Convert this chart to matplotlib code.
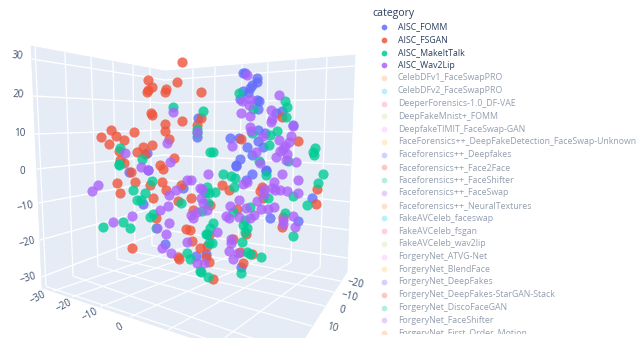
#!/usr/bin/env python3
import matplotlib
matplotlib.use('Agg')
import matplotlib.pyplot as plt
from matplotlib.patches import Polygon, Rectangle

# projected point positions (screen px)
fomm = [(198,118),(197,137),(147,153),(243,73),(245,73),(257,78),(257,82),(252,85),(250,88),(243,91),
        (248,93),(240,99),(259,101),(257,100),(258,109),(276,113),(282,111),(293,125),(258,130),(265,133),
        (258,141),(263,147),(230,138),(239,138),(247,147),(252,155),(240,159),(236,165),(266,171),(129,172),
        (148,170),(143,204),(165,244),(196,256),(183,188),(236,166),(252,174),(266,170),(246,180),(312,198),
        (298,221),(270,218),(206,254),(241,267)]
fsgan = [(182,62),(148,80),(152,87),(148,90),(147,92),(166,89),(165,92),(177,82),(201,92),(151,113),
         (152,115),(182,121),(165,124),(165,131),(169,139),(111,130),(116,136),(101,137),(109,144),(124,140),
         (134,132),(143,147),(152,145),(137,152),(145,154),(119,151),(120,160),(124,163),(160,165),(163,169),
         (174,158),(201,118),(197,125),(241,139),(282,117),(298,141),(117,183),(135,182),(120,193),(131,172),
         (162,182),(150,185),(166,190),(153,198),(156,218),(181,185),(178,201),(191,198),(186,229),(190,230),
         (192,241),(200,248),(207,246),(132,248),(178,257),(179,259),(193,210),(206,257),(222,185),(229,190),
         (262,187),(260,191),(263,198),(210,205),(237,209),(283,217),(282,227),(317,189),(316,204),(246,234),
         (233,239),(240,252),(252,254),(243,263),(209,262),(213,279),(209,235)]
makeittalk = [(173,107),(203,111),(197,129),(197,133),(120,148),(142,159),(119,164),(210,152),(239,93),(285,101),
              (287,107),(286,117),(277,131),(270,135),(269,145),(252,133),(253,109),(213,152),(315,148),(313,152),
              (314,155),(259,161),(288,161),(133,190),(152,181),(145,193),(141,200),(137,200),(103,227),(123,222),
              (130,228),(150,217),(153,214),(156,228),(181,203),(187,253),(190,259),(200,271),(208,277),(207,234),
              (119,165),(205,193),(209,243),(223,174),(231,176),(235,178),(266,175),(323,174),(318,183),(307,205),
              (234,187),(215,192),(207,187),(209,193),(293,196),(268,198),(250,207),(233,212),(285,213),(213,223),
              (210,228),(206,234),(245,220),(243,225),(247,228),(245,232),(242,242),(212,243),(247,252),(250,254),
              (261,257),(293,236),(241,273),(201,272),(202,211),(208,203)]
wav2lip = [(173,112),(167,143),(125,153),(170,162),(141,167),(148,170),(197,132),(247,75),(279,95),(242,101),
           (250,99),(249,105),(241,113),(250,116),(271,110),(272,119),(271,122),(293,126),(250,127),(251,131),
           (263,136),(279,140),(291,136),(289,142),(285,146),(283,149),(280,151),(287,154),(276,157),(286,160),
           (296,162),(232,146),(256,152),(260,163),(98,185),(92,191),(113,222),(132,216),(160,210),(168,206),
           (169,223),(166,234),(157,228),(187,242),(162,248),(171,253),(176,190),(169,195),(193,218),(191,215),
           (197,212),(203,203),(187,180),(191,180),(200,188),(197,263),(204,263),(207,210),(208,174),(282,174),
           (274,182),(247,182),(243,184),(264,189),(272,188),(280,190),(275,190),(287,191),(298,193),(298,180),
           (264,194),(239,200),(230,206),(257,201),(246,208),(261,209),(268,209),(274,207),(254,215),(250,218),
           (226,216),(229,218),(239,217),(293,216),(283,220),(283,224),(295,227),(217,232),(231,239),(231,243),
           (229,251),(233,259),(238,253),(202,189),(201,198)]

active = ['AISC_FOMM', 'AISC_FSGAN', 'AISC_MakeItTalk', 'AISC_Wav2Lip']
categories = active + ['CelebDFv1_FaceSwapPRO', 'CelebDFv2_FaceSwapPRO', 'DeeperForensics-1.0_DF-VAE',
                       'DeepFakeMnist+_FOMM', 'DeepfakeTIMIT_FaceSwap-GAN',
                       'FaceForensics++_DeepFakeDetection_FaceSwap-Unknown', 'Faceforensics++_Deepfakes',
                       'Faceforensics++_Face2Face', 'Faceforensics++_FaceShifter', 'Faceforensics++_FaceSwap',
                       'Faceforensics++_NeuralTextures', 'FakeAVCeleb_faceswap', 'FakeAVCeleb_fsgan',
                       'FakeAVCeleb_wav2lip', 'ForgeryNet_ATVG-Net', 'ForgeryNet_BlendFace', 'ForgeryNet_DeepFakes',
                       'ForgeryNet_DeepFakes-StarGAN-Stack', 'ForgeryNet_DiscoFaceGAN', 'ForgeryNet_FaceShifter',
                       'ForgeryNet_First_Order_Motion']
colors = ['#636EFA', '#EF553B', '#00CC96', '#AB63FA', '#FFA15A', '#19D3F3', '#FF6692', '#B6E880', '#FF97FF', '#FECB52']

z_ticks = ['30', '20', '10', '0', '\u221210', '\u221220', '\u221230']
z_pos = [(17,56,-5), (18,95,-3), (20,133,0), (22,171,0), (25,207,12), (27,243,14), (28,278,16)]
x_ticks = ['\u221230', '\u221220', '\u221210', '0']
x_pos = [(38,298), (64,306), (90,315), (120,327)]
y_ticks = ['\u221220', '\u221210', '0', '10']
y_pos = [(355,284), (349,297), (342,310), (332,328)]

BG = '#E5ECF6'
TXT = '#2a3f5f'
plt.rcParams['font.family'] = ['Open Sans', 'DejaVu Sans']

fig = plt.figure(figsize=(6.36, 3.38), dpi=100)
ax = fig.add_axes([0, 0, 1, 1])
ax.set_xlim(0, 636)
ax.set_ylim(338, 0)
ax.axis('off')

# box walls and floor
left_wall = [(31,46), (165,71), (165,240), (42,288)]
right_wall = [(165,71), (355,55), (347,272), (165,240)]
floor = [(42,288), (165,240), (347,272), (285,369)]
for q in (left_wall, right_wall, floor):
    ax.add_patch(Polygon(q, closed=True, facecolor=BG, edgecolor=BG, lw=0.5, zorder=1))


def grid(segs, lw=1.0):
    for a, b in segs:
        ax.plot([a[0], b[0]], [a[1], b[1]], color='white', lw=lw, zorder=2, solid_capstyle='butt')


# horizontal lines on both walls
z_left = [59, 96, 134, 169, 203, 240, 277]
z_back = [80, 103, 130, 155, 180, 205, 230]
z_right = [66, 99, 132, 165, 202, 230, 258]
for l, m, r in zip(z_left, z_back, z_right):
    grid([((31 + (l - 46) * 0.046, l), (165, m)), ((165, m), (355 - (r - 55) * 0.037, r))])

# vertical lines on the walls and their continuation on the floor
wall_l_top = [35, 65, 91, 113, 133, 150]
wall_l_bot = [46, 73, 98, 117, 135, 152]
floor_r = [(288,365), (295,353), (312,326), (325,306), (334,292), (341,281)]
for t, b, e in zip(wall_l_top, wall_l_bot, floor_r):
    pb = (b, 288 - 0.387 * (b - 42))
    grid([((t, 46 + 0.187 * (t - 31)), pb), (pb, e)], lw=0.9)

wall_r_top = [193, 215, 242, 268, 296, 327]
wall_r_bot = [192, 213, 238, 264, 291, 320]
floor_l = [(53,291), (72,297), (100,307), (130,317), (168,330), (215,345)]
for t, b, e in zip(wall_r_top, wall_r_bot, floor_l):
    pb = (b, 240 + 0.176 * (b - 165))
    grid([((t, 71 - 0.084 * (t - 165)), pb), (pb, e)], lw=0.9)

# points
for pts, c in zip((fomm, fsgan, makeittalk, wav2lip), colors):
    ax.scatter([p[0] for p in pts], [p[1] for p in pts], s=54, color=c, alpha=0.8, linewidths=0, zorder=3)

# axis tick labels
for s, (x, y, r) in zip(z_ticks, z_pos):
    ax.text(x, y, s, color=TXT, fontsize=7.1, ha='center', va='center', rotation=r, alpha=0.9)
for s, (x, y) in zip(x_ticks, x_pos):
    ax.text(x, y, s, color=TXT, fontsize=7.1, ha='center', va='center', rotation=28, alpha=0.9)
for s, (x, y) in zip(y_ticks, y_pos):
    ax.text(x, y, s, color=TXT, fontsize=7.1, ha='center', va='center', rotation=-14, alpha=0.9)

# legend, cut off at the bottom like the original
ax.text(372, 13.5, 'category', color=TXT, fontsize=7.6, ha='left', va='center')
clip = Rectangle((360, 0), 276, 333.5, transform=ax.transData)
for i, name in enumerate(categories):
    y = 27 + 12.75 * i
    on = name in active
    sc = ax.scatter([384], [y], s=17, color=colors[i % len(colors)], alpha=0.85 if on else 0.3, linewidths=0, zorder=3)
    sc.set_clip_path(clip)
    t = ax.text(398, y, name, color=TXT, fontsize=6.3, ha='left', va='center', alpha=1 if on else 0.5, clip_on=True)
    t.set_clip_path(clip)

fig.savefig('out.png', dpi=100)
